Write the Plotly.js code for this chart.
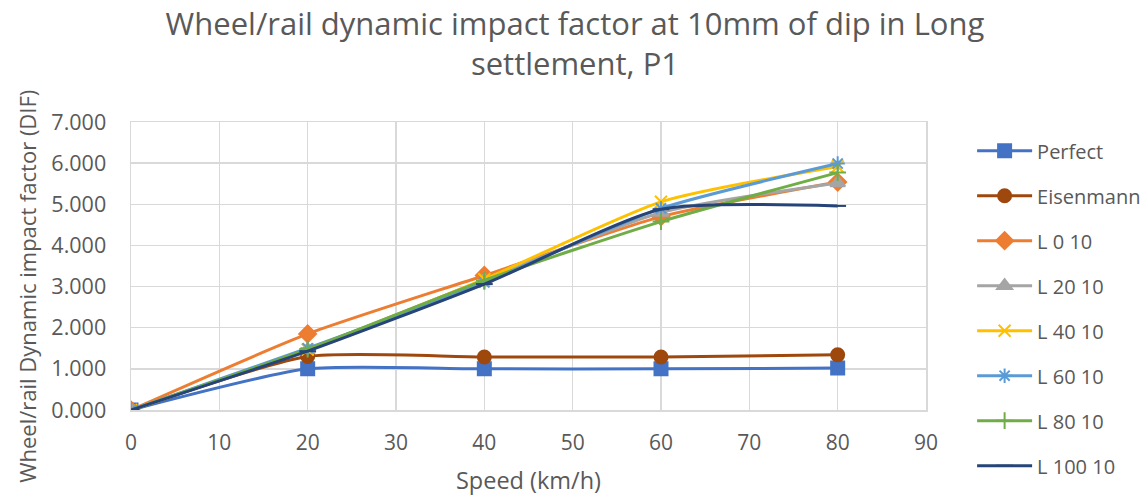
<!DOCTYPE html>
<html>
<head>
<meta charset="utf-8">
<script src="https://cdn.plot.ly/plotly-3.0.1.min.js"></script>
<style>
  html, body { margin: 0; padding: 0; background: #fff; }
  #chart { width: 1147px; height: 496px; }
</style>
</head>
<body>
<div id="chart"></div>
<script>
// Speeds (km/h) at which the dynamic impact factor was evaluated
const speeds = [0, 20, 40, 60, 80];

// Dynamic impact factor per case
const perfect    = [0, 1.00, 1.00, 1.00, 1.02];
const eisenmann  = [0, 1.30, 1.29, 1.29, 1.34];
const l0_10      = [0, 1.85, 3.27, 4.70, 5.54];
const l20_10     = [0, 1.47, 3.16, 4.80, 5.52];
const l40_10     = [0, 1.47, 3.18, 5.06, 5.92];
const l60_10     = [0, 1.50, 3.10, 4.90, 5.99];
const l80_10     = [0, 1.48, 3.15, 4.58, 5.77];
const l100_10    = [0, 1.43, 3.06, 4.88, 4.96];

const seriesNames = ["Perfect", "Eisenmann", "L 0 10", "L 20 10", "L 40 10", "L 60 10", "L 80 10", "L 100 10"];
const seriesData  = [perfect, eisenmann, l0_10, l20_10, l40_10, l60_10, l80_10, l100_10];

const colors  = ["#4472C4", "#9E480E", "#ED7D31", "#A5A5A5", "#FFC000", "#5B9BD5", "#70AD47", "#264478"];
const symbols = ["square", "circle", "diamond", "triangle-up", "x-thin-open", "asterisk-open", "cross-thin-open", "line-ew-open"];
const sizes   = [13, 13, 13, 13, 12, 12, 12, 12];

const chartTitle = "Wheel/rail dynamic impact factor at 10mm of dip in Long<br>settlement, P1";
const yTitle = "Wheel/rail Dynamic impact factor (DIF)";
const xTitle = "Speed (km/h)";

const traces = seriesNames.map((name, i) => ({
  x: speeds,
  y: seriesData[i],
  name: name,
  legendgroup: "g" + i,
  type: "scatter",
  mode: "lines+markers",
  line: { color: colors[i], width: 3, shape: "spline", smoothing: 0.6 },
  marker: {
    symbol: symbols[i],
    size: sizes[i],
    color: colors[i],
    line: { color: colors[i], width: 2 }
  }
}));

const textColor = "#595959";
const gridColor = "#D9D9D9";
const fontFamily = "'Open Sans', 'Liberation Sans', sans-serif";

const layout = {
  width: 1147,
  height: 496,
  paper_bgcolor: "#ffffff",
  plot_bgcolor: "#ffffff",
  font: { family: fontFamily, color: textColor },
  margin: { l: 131, r: 221, t: 122, b: 86, autoexpand: false },
  title: {
    text: chartTitle,
    font: { size: 31, color: textColor, family: fontFamily },
    x: 0.5013,
    xanchor: "center",
    y: 0.93,
    yanchor: "middle"
  },
  annotations: [
    {
      // vertical axis title, placed by hand so it can sit lower than the plot centre
      text: yTitle,
      xref: "paper", yref: "paper",
      x: -0.13, y: 0.43,
      xanchor: "center", yanchor: "middle",
      textangle: -90,
      showarrow: false,
      font: { size: 22, color: textColor, family: fontFamily }
    }
  ],
  xaxis: {
    range: [0, 90],
    dtick: 10,
    tick0: 0,
    showgrid: true,
    gridcolor: gridColor,
    gridwidth: 1.5,
    zeroline: false,
    showline: true,
    linecolor: gridColor,
    linewidth: 1.5,
    mirror: true,
    ticks: "",
    ticklabelstandoff: 13,
    tickfont: { size: 21, color: textColor },
    title: { text: xTitle, font: { size: 23.5, color: textColor }, standoff: 18 }
  },
  yaxis: {
    range: [0, 7],
    dtick: 1,
    tick0: 0,
    tickformat: ".3f",
    showgrid: true,
    gridcolor: gridColor,
    gridwidth: 1.5,
    zeroline: false,
    showline: true,
    linecolor: gridColor,
    linewidth: 1.5,
    mirror: true,
    ticks: "",
    ticklabelstandoff: 19,
    tickfont: { size: 21.5, color: textColor }
  },
  legend: {
    x: 1.058,
    xanchor: "left",
    y: 0.968,
    yanchor: "top",
    font: { size: 20, color: textColor },
    tracegroupgap: 16,
    itemwidth: 55,
    maxheight: 1000,
    bgcolor: "rgba(0,0,0,0)"
  },
  showlegend: true
};

Plotly.newPlot("chart", traces, layout, { displayModeBar: false, staticPlot: true });
</script>
</body>
</html>
